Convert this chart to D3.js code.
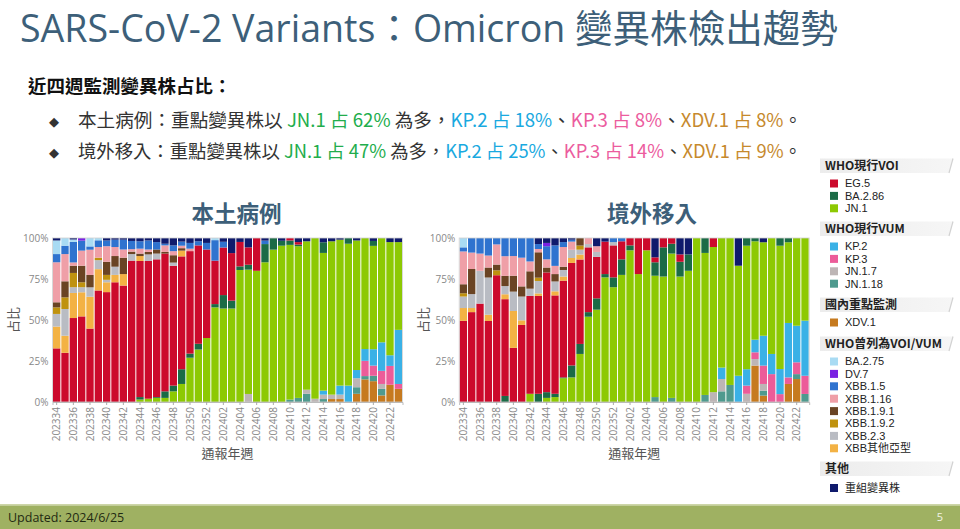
<!DOCTYPE html>
<html><head><meta charset="utf-8">
<script src="https://cdn.jsdelivr.net/npm/d3@7"></script>
<style>body{margin:0;background:#fff;} svg{display:block;}</style>
</head><body><svg id="c" width="960" height="529"></svg>
<script>
// ---------------- DATA ----------------
const weeks = ["202334","202335","202336","202337","202338","202339","202340","202341","202342","202343",
"202344","202345","202346","202347","202348","202349","202350","202351","202352","202401",
"202402","202403","202404","202405","202406","202407","202408","202409","202410","202411",
"202412","202413","202414","202415","202416","202417","202418","202419","202420","202421",
"202422","202423"];
const yTicks = [0, 0.25, 0.5, 0.75, 1];

// 本土病例 (% per week)
const L_XDV   = [0,0,0,0,0,0,0,0,0,0, 0,0,0,0,0,0,0,0,0,0, 0,0,0,0,0,0,0,0,0,0, 0,0,0,1.8,1.8,0,5,13.8,12.7,4, 10.5,8];
const L_JN118 = [0,0,0,0,0,0,0,0,0,0, 0,0,0,0,0,0,0,0,0,0, 0,0,0,0,0,0,0,0,1.5,2.5, 5,0,1.8,0,0,0,4,2,3.3,4, 0,0];
const L_JN17  = [0,0,0,0,0,0,0,0,0,0, 0,0,0,0,0,0,0,0,0,0, 0,0,0,4.9,0,0,0,0,0,0, 2.5,2,2.7,2.7,2.7,0,5.5,0,0,3, 0,0];
const L_KP3   = [0,0,0,0,0,0,0,0,0,0, 0,0,0,0,0,0,0,0,0,0, 0,0,0,0,0,0,0,0,0,0, 0,0,0,0,0,0,0,9.3,6.2,8, 11.5,3];
const L_KP2   = [0,0,0,0,0,0,0,0,0,0, 0,0,0,0,0,0,0,0,0,0, 0,0,0,0,0,0,0,0,0,0, 0,0,2.4,0,5.5,10,5,7.2,10,17.4, 6.5,33];
const L_JN1   = [0,0,0,0,0,0,0,0,0,0, 1.5,2,2.5,2.5,6.5,11,27,32,39,57.7, 57,57,80.5,75.8,80,85.2,92.9,95.3,94.3,92.5, 90.5,98,84,93.5,89,86.5,79,67.7,63,63.6, 69,53.5];
const L_BA286 = [0,0,0,0,0,0,0,0,0,0, 1.5,0,0.5,4,3.5,9,2.5,3.5,0,2, 8.2,4.8,2.2,3,0,11.1,7.1,3,2.7,1, 0,0,6.5,0,0,3.5,0,0,3,0, 0,0];
const L_EG5   = [32.7,30,51.2,52.2,44.5,68,67,73,71,86.2, 83,84,84,84,73,68.8,62.5,60,54,26.5, 29,29,14.9,10.6,20,0,0,0,1.5,1.5, 0,0,0,0,0,0,0,0,0,0, 0,0];
const L_XBBo  = [13.3,10.4,15.3,14.7,19.3,13,6,4.5,7,0, 3,0,0,0,0,3.5,0,0,0,0, 0,0,0,0,0,0,0,0,0,0, 0,0,0,0,0,0,0,0,0,0, 0,0];
const L_XBB23 = [7.7,16.3,3.5,3.1,5.7,5.5,1.5,5,0,4, 0,4,3.5,0,2,0,0,0,0,0, 0,0,0,0,0,0,0,0,0,0, 0,0,0,0,0,0,0,0,0,0, 0,0];
const L_XBB192= [4,7.1,8.7,3,0,1.5,3,0,0,0, 0,0,0,0,0,0,0,0,0,0, 0,0,0,0,0,0,0,0,0,0, 0,0,0,0,0,0,0,0,0,0, 0,0];
const L_XBB191= [3.1,9.8,4.4,10.1,7.5,0,8,6.5,10,1.5, 1.5,1.5,2.5,1,4.5,1.5,0,0,0,0, 0,0,0,0,0,0,0,0,0,0, 0,0,0,0,0,0,0,0,0,0, 0,0];
const L_XBB116= [24.4,16.6,2,9.2,15.3,6.5,9.5,5.5,5,1.5, 3,1.5,0,4,2.5,1.5,1.5,0,0,0, 0,0,0,0,0,0,0,0,0,0, 0,0,0,0,0,0,0,0,0,0, 0,0];
const L_XBB15 = [5,5.1,12.5,6.1,2,4.1,3.5,4.5,6,5, 4.5,5.5,4.5,1,3.5,2.5,3.5,2.5,4,12.5, 3.5,0,0,0,0,2.1,0,0,0,0, 0,0,0,0,0,0,0,0,0,0, 0,0];
const L_DV7   = [0,0,0,1.6,0,0,0,0,0,0, 0,0,0,0,0,0,0,0,0,0, 0,0,0,0,0,0,0,0,0,0, 0,0,0,0,0,0,0,0,0,0, 0,0];
const L_BA275 = [8.3,4.7,1.5,0,5.1,1.4,0,0,0,0, 0,0,0,0,0,0,0,0,0,1.3, 0,0,0,0,0,0,0,0,0,0, 0,0,0,0,0,0,0,0,0,0, 0,0];
const L_REC   = [1.5,0,0.9,0,0,0,1.5,1,1,1.8, 2,1.5,2.5,3.5,4.5,2.2,3,2,3,0, 2.3,9.2,2.4,5.7,0,1.6,0,1.7,0,2.5, 2,0,2.6,2,1,0,1.5,0,1.8,0, 2.5,2.5];

// 境外移入 (% per week)
const R_XDV   = [0,0,0,0,0,0,0,0,0,0, 0,0,0,0,0,0,0,0,0,0, 0,0,0,0,0,0,0,0,0,0, 0,0,0,0,0,22.2,3.9,0,0,11, 14,0];
const R_JN118 = [0,0,0,0,0,0,0,0,0,0, 0,0,0,0,0,0,0,0,0,0, 0,0,0,3,0,2.5,0,0,0,4.3, 0,6.5,10.4,0,0,0,3,0,0,0, 3,4.9];
const R_JN17  = [0,0,0,0,0,0,0,0,0,0, 0,0,0,0,0,0,0,0,0,0, 0,0,0,0,0,0,0,0,0,0, 6,7.5,0,0,5,4,4.1,0,0,0, 0,0];
const R_KP3   = [0,0,0,0,0,0,0,0,0,0, 0,0,0,0,0,0,0,0,0,0, 0,0,0,0,0,0,0,0,0,0, 0,0,0,0,5,4.1,11.2,17,4.8,4, 7.2,11.1];
const R_KP2   = [0,0,0,0,0,0,0,0,0,0, 0,0,0,0,0,0,0,0,0,0, 0,0,0,0,0,0,0,0,0,0, 0,7,0,16,10,7.7,18.2,12.3,15.3,33.2, 22.3,33.6];
const R_JN1   = [0,0,0,0,0,0,0,0,5,0, 2.5,3,14.5,15,29.3,52,56.3,76,70,77.5, 92.5,78,92.5,74,76.5,88,76.5,80,100,86.6, 88.5,79,89.6,67.1,75.3,60,57,70.7,75.2,49.2, 53.5,50.4];
const R_BA286 = [0,0,0,0,0,3.7,0,0,0,5, 3.5,2,0.5,7.3,6.1,2.8,6.9,2,6,9.5, 3,0,0,8.2,17.8,6,9,10,0,9.1, 0,0,0,0,4.7,2,0,0,4.7,2.6, 0,0];
const R_EG5   = [49.5,54.8,60,49.4,77.3,59,33,47,59.7,59.7, 73,60,59,62.5,51.5,39.5,25.3,19.8,19.5,11, 4.5,22,7.5,3,5.7,3.5,4.5,0,0,0, 5.5,0,0,0,0,0,0,0,0,0, 0,0];
const R_XBBo  = [7.8,2.5,0,3.8,0,3,22.5,2.8,0,1.5, 0,2.5,2.5,3,3,0,0,0,0,0, 0,0,0,0,0,0,0,0,0,0, 0,0,0,0,0,0,0,0,0,0, 0,0];
const R_XBB23 = [7,8.5,20,22.7,0,5,11.8,14.5,4.4,7.6, 0,6,4,5,3,2,3,0,2,0, 0,0,0,0,0,0,0,0,0,0, 0,0,0,0,0,0,0,0,0,0, 0,0];
const R_XBB192= [2,0,0,0,3,0,0,0,0,2, 0,0,0,0,2.5,0,0,0,0,0, 0,0,0,0,0,0,0,0,0,0, 0,0,0,0,0,0,0,0,0,0, 0,0];
const R_XBB191= [5.5,15.3,0,6.1,3.5,6.2,9.7,6.2,10.6,15.5, 3,4.5,2,0,4.6,0,0,0,0,0, 0,0,0,0,0,0,0,0,0,0, 0,0,0,0,0,0,0,0,0,0, 0,0];
const R_XBB116= [20,10,10.5,7.3,12.3,12,12,17.5,6,2, 5,5,12,5,0,3.7,3.5,0,0,0, 0,0,0,0,0,0,0,0,0,0, 0,0,0,0,0,0,0,0,0,0, 0,0];
const R_XBB15 = [2.5,8.9,9.5,10.7,3.9,11.1,11,12,14.3,3, 8,12.5,3,1.2,0,0,0,0,2.5,2, 0,0,0,0,0,0,0,0,0,0, 0,0,0,0,0,0,0,0,0,0, 0,0];
const R_DV7   = [0,0,0,0,0,0,0,0,0,0, 2,0,0,0,0,0,0,0,0,0, 0,0,0,0,0,0,0,0,0,0, 0,0,0,0,0,0,0,0,0,0, 0,0];
const R_BA275 = [5.7,0,0,0,0,0,0,0,0,0, 0,0,0,0,0,0,0,0,0,0, 0,0,0,0,0,0,0,0,0,0, 0,0,0,0,0,0,0,0,0,0, 0,0];
const R_REC   = [0,0,0,0,0,0,0,0,0,3.7, 3,4.5,2.5,1,0,0,5,2.2,0,0, 0,0,0,11.8,0,0,10,10,0,0, 0,0,0,16.9,0,0,2.6,0,0,0, 0,0];

// stacking order (bottom -> top)
const stackKeys = ["XDV.1","JN.1.18","JN.1.7","KP.3","KP.2","JN.1","BA.2.86","EG.5","XBB其他亞型","XBB.2.3","XBB.1.9.2","XBB.1.9.1","XBB.1.16","XBB.1.5","DV.7","BA.2.75","重組變異株"];
const colors = {
  "EG.5":"#cc0a2c","BA.2.86":"#1b6b46","JN.1":"#8dc903",
  "KP.2":"#3ab1e6","KP.3":"#ec5c99","JN.1.7":"#bdb5b5","JN.1.18":"#4f9a8e",
  "XDV.1":"#c67a1f",
  "BA.2.75":"#a9dbf3","DV.7":"#7a22e2","XBB.1.5":"#2f73cf","XBB.1.16":"#ef9fa7",
  "XBB.1.9.1":"#6a4424","XBB.1.9.2":"#bf920f","XBB.2.3":"#b9bcc3","XBB其他亞型":"#f3b244",
  "重組變異株":"#0f1a6c"
};
const localMap = {"XDV.1":L_XDV,"JN.1.18":L_JN118,"JN.1.7":L_JN17,"KP.3":L_KP3,"KP.2":L_KP2,"JN.1":L_JN1,"BA.2.86":L_BA286,"EG.5":L_EG5,
  "XBB其他亞型":L_XBBo,"XBB.2.3":L_XBB23,"XBB.1.9.2":L_XBB192,"XBB.1.9.1":L_XBB191,"XBB.1.16":L_XBB116,"XBB.1.5":L_XBB15,"DV.7":L_DV7,"BA.2.75":L_BA275,"重組變異株":L_REC};
const importMap = {"XDV.1":R_XDV,"JN.1.18":R_JN118,"JN.1.7":R_JN17,"KP.3":R_KP3,"KP.2":R_KP2,"JN.1":R_JN1,"BA.2.86":R_BA286,"EG.5":R_EG5,
  "XBB其他亞型":R_XBBo,"XBB.2.3":R_XBB23,"XBB.1.9.2":R_XBB192,"XBB.1.9.1":R_XBB191,"XBB.1.16":R_XBB116,"XBB.1.5":R_XBB15,"DV.7":R_DV7,"BA.2.75":R_BA275,"重組變異株":R_REC};

const legendGroups = [
  {title:"WHO現行VOI", items:["EG.5","BA.2.86","JN.1"]},
  {title:"WHO現行VUM", items:["KP.2","KP.3","JN.1.7","JN.1.18"]},
  {title:"國內重點監測", items:["XDV.1"]},
  {title:"WHO曾列為VOI/VUM", items:["BA.2.75","DV.7","XBB.1.5","XBB.1.16","XBB.1.9.1","XBB.1.9.2","XBB.2.3","XBB其他亞型"]},
  {title:"其他", items:["重組變異株"]}
];

// ---------------- DRAW ----------------
const FONT = "'Open Sans','Noto Sans CJK TC',sans-serif";
const svg = d3.select("#c");
const defs = svg.append("defs");
const gr = defs.append("linearGradient").attr("id","hdr").attr("x1","0").attr("x2","1");
gr.append("stop").attr("offset","0").attr("stop-color","#ececec");
gr.append("stop").attr("offset","1").attr("stop-color","#f6f6f6");

function fitText(sel, target, base){
  const w = sel.node().getComputedTextLength();
  sel.style("font-size", (base*target/w).toFixed(2)+"px");
}

// title
const title = svg.append("text").attr("x",20).attr("y",42).attr("fill","#3d5f79")
  .style("font-family",FONT).style("font-size","36px")
  .text("SARS-CoV-2 Variants：Omicron 變異株檢出趨勢");
fitText(title, 818, 36);

svg.append("text").attr("x",28).attr("y",93).attr("fill","#111")
  .style("font-family","'Noto Sans CJK TC',sans-serif").style("font-size","18.5px").style("font-weight","700")
  .text("近四週監測變異株占比：");

const cG="#22ad4c", cB="#19a9e0", cP="#ec5c9e", cO="#c6892d", cT="#333";
const bullets = [
  {y:127, segs:[["本土病例：重點變異株以 ",cT],["JN.1 占 62%",cG],[" 為多，",cT],["KP.2 占 18%",cB],["、",cT],["KP.3 占 8%",cP],["、",cT],["XDV.1 占 8%",cO],["。",cT]]},
  {y:158, segs:[["境外移入：重點變異株以 ",cT],["JN.1 占 47%",cG],[" 為多，",cT],["KP.2 占 25%",cB],["、",cT],["KP.3 占 14%",cP],["、",cT],["XDV.1 占 9%",cO],["。",cT]]}
];
bullets.forEach(b=>{
  svg.append("text").attr("x",49).attr("y",b.y-1).attr("fill","#333")
    .style("font-family","'DejaVu Sans',sans-serif").style("font-size","13px").text("◆");
  const t = svg.append("text").attr("x",78).attr("y",b.y)
    .style("font-family","'Noto Sans CJK TC',sans-serif").style("font-size","19px");
  b.segs.forEach(s=>t.append("tspan").attr("fill",s[1]).text(s[0]));
  fitText(t, 724, 19);
});

const Y0 = 402, Y1 = 238;
const yScale = d3.scaleLinear().domain([0,1]).range([Y0,Y1]);
const stack = d3.stack().keys(stackKeys).offset(d3.stackOffsetExpand);

function drawChart(map, x0, x1, name, titleX, yTitleX){
  const rows = weeks.map((w,i)=>{const r={week:w}; stackKeys.forEach(k=>r[k]=map[k][i]); return r;});
  const xb = d3.scaleBand().domain(weeks).range([x0,x1]).padding(0);
  const bw = xb.bandwidth();
  const g = svg.append("g");
  const layers = stack(rows);
  g.selectAll("g.layer").data(layers).join("g").attr("fill",d=>colors[d.key])
    .selectAll("rect").data(d=>d.filter(p=>p[1]-p[0]>0)).join("rect")
    .attr("x",d=>xb(d.data.week)+0.5).attr("width",bw-1)
    .attr("y",d=>yScale(d[1])).attr("height",d=>yScale(d[0])-yScale(d[1]));
  g.append("rect").attr("x",x0).attr("y",Y1).attr("width",x1-x0).attr("height",Y0-Y1)
    .attr("fill","none").attr("stroke","#cfcfcf").attr("stroke-width",0.8);

  const ya = g.append("g").attr("transform",`translate(${x0},0)`)
    .call(d3.axisLeft(yScale).tickValues(yTicks).tickFormat(d3.format(".0%")).tickSize(0).tickPadding(4));
  ya.select(".domain").remove();
  ya.selectAll("text").attr("fill","#888").style("font-family",FONT).style("font-size","10px");

  const xa = g.append("g").attr("transform",`translate(0,${Y0})`)
    .call(d3.axisBottom(xb).tickValues(weeks.filter((d,i)=>i%2===0)).tickSize(3).tickPadding(2));
  xa.select(".domain").attr("stroke","#bbb");
  xa.selectAll(".tick line").attr("stroke","#aaa");
  xa.selectAll("text").attr("fill","#888").style("font-family",FONT).style("font-size","10px")
    .attr("transform","rotate(-90)").attr("text-anchor","end").attr("x",-5).attr("y",0).attr("dy","0.35em");

  g.append("text").attr("x",(x0+x1)/2).attr("y",458).attr("text-anchor","middle").attr("fill","#555")
    .style("font-family","'Noto Sans CJK TC',sans-serif").style("font-size","13px").text("通報年週");
  g.append("text").attr("transform",`translate(${yTitleX},320) rotate(-90)`).attr("text-anchor","middle")
    .attr("dy","0.35em").attr("fill","#555")
    .style("font-family","'Noto Sans CJK TC',sans-serif").style("font-size","13px").text("占比");
  g.append("text").attr("x",titleX).attr("y",222).attr("text-anchor","middle").attr("fill","#3d5f79")
    .style("font-family","'Noto Sans CJK TC',sans-serif").style("font-size","22.5px").style("font-weight","600").text(name);
}
drawChart(localMap, 52.5, 402.5, "本土病例", 236.5, 13);
drawChart(importMap, 459.2, 809.2, "境外移入", 652, 423);

// legend
const headerY = [166, 229, 305, 344, 469];
const lg = svg.append("g");
legendGroups.forEach((grp,gi)=>{
  const hy = headerY[gi];
  lg.append("path").attr("d",`M820,${hy-7.5}L953,${hy-7.5}L949,${hy+7}L820,${hy+7}Z`).attr("fill","url(#hdr)");
  lg.append("path").attr("d",`M953,${hy-7.5}L949,${hy+7}`).attr("stroke","#d2d2d2").attr("stroke-width",1.2);
  lg.append("text").attr("x",825).attr("y",hy).attr("dy","0.36em").attr("fill","#222")
    .style("font-family","'Noto Sans CJK TC',sans-serif").style("font-size","12px").style("font-weight","600").text(grp.title);
  const first = gi===4 ? hy+19 : hy+17.5;
  grp.items.forEach((it,ii)=>{
    const iy = first + ii*12.4;
    lg.append("rect").attr("x",830).attr("y",iy-4).attr("width",8).attr("height",8).attr("fill",colors[it]);
    lg.append("text").attr("x",845).attr("y",iy).attr("dy","0.36em").attr("fill","#222")
      .style("font-family","'Liberation Sans','Noto Sans CJK TC',sans-serif").style("font-size","11px").text(it);
  });
});

// footer
svg.append("rect").attr("x",0).attr("y",504).attr("width",960).attr("height",1.5).attr("fill","#cdd6a8");
svg.append("rect").attr("x",0).attr("y",505.5).attr("width",960).attr("height",24).attr("fill","#9fb162");
svg.append("text").attr("x",8).attr("y",522).attr("fill","#1f2a12").style("font-family",FONT).style("font-size","12.5px").text("Updated: 2024/6/25");
svg.append("text").attr("x",940).attr("y",521).attr("text-anchor","middle").attr("fill","#f2f4e6").style("font-family",FONT).style("font-size","11px").text("5");
</script></body></html>
